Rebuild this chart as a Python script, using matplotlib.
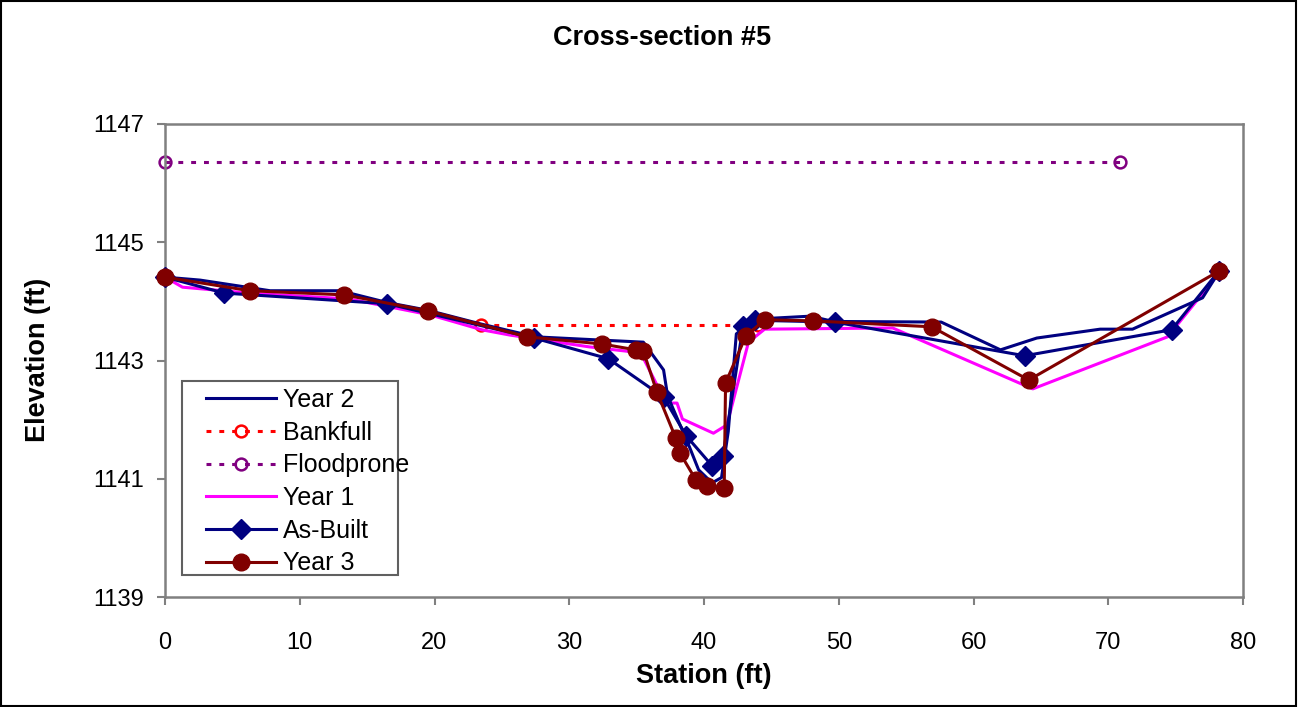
import matplotlib
matplotlib.use("Agg")
import matplotlib.pyplot as plt
from matplotlib.patches import Rectangle

plt.rcParams['font.family'] = ['Liberation Sans', 'DejaVu Sans']

# Survey data: station (ft) vs elevation (ft)
year2_sta = [0, 2.6, 7.8, 13.0, 16.5, 19.5, 23.4, 27.5, 35.5, 37.0, 37.3, 38.9,
             39.6, 40.6, 41.3, 41.8, 42.4, 43.3, 43.8, 47.9, 49.6, 57.6, 62.0,
             64.7, 69.4, 71.8, 77.0, 78.3]
year2_elev = [1144.41, 1144.36, 1144.18, 1144.18, 1143.98, 1143.85, 1143.62,
              1143.40, 1143.31, 1142.84, 1142.40, 1141.55, 1141.15, 1140.93,
              1141.02, 1141.80, 1143.45, 1143.62, 1143.70, 1143.75, 1143.66,
              1143.65, 1143.18, 1143.38, 1143.53, 1143.53, 1144.06, 1144.53]

bankfull_sta = [23.45, 44.0]
bankfull_elev = [1143.60, 1143.60]

floodprone_sta = [0, 70.9]
floodprone_elev = [1146.36, 1146.36]

year1_sta = [0, 1.3, 6.3, 13.7, 19.7, 23.5, 25.6, 31.5, 35.3, 36.5, 37.3, 38.0,
             38.4, 40.7, 41.7, 43.3, 44.5, 54.0, 64.4, 74.4, 78.3]
year1_elev = [1144.41, 1144.24, 1144.14, 1144.04, 1143.77, 1143.52, 1143.43,
              1143.23, 1143.13, 1142.59, 1142.28, 1142.28, 1142.01, 1141.77,
              1141.91, 1143.31, 1143.53, 1143.55, 1142.52, 1143.40, 1144.50]

asbuilt_sta = [0, 4.4, 16.5, 27.4, 32.9, 37.0, 38.7, 40.6, 41.4, 42.9, 43.8,
               49.7, 63.8, 74.7, 78.2]
asbuilt_elev = [1144.41, 1144.14, 1143.96, 1143.38, 1143.03, 1142.38, 1141.72,
                1141.22, 1141.38, 1143.58, 1143.68, 1143.65, 1143.08, 1143.52,
                1144.51]

year3_sta = [0, 6.3, 13.3, 19.5, 26.9, 32.4, 34.95, 35.5, 36.5, 37.9, 38.2, 39.4,
             40.2, 41.5, 41.6, 43.1, 44.5, 48.1, 56.9, 64.1, 78.2]
year3_elev = [1144.41, 1144.18, 1144.11, 1143.84, 1143.40, 1143.28, 1143.18,
              1143.16, 1142.47, 1141.69, 1141.44, 1140.98, 1140.88, 1140.84,
              1142.62, 1143.41, 1143.69, 1143.67, 1143.57, 1142.67, 1144.51]

x_ticks = [0, 10, 20, 30, 40, 50, 60, 70, 80]
y_ticks = [1139, 1141, 1143, 1145, 1147]

W, H = 1299, 707
fig = plt.figure(figsize=(W / 100, H / 100), dpi=100)
fig.patch.set_facecolor('white')
fig.add_artist(Rectangle((0.001, 0.002), 0.997, 0.996, transform=fig.transFigure,
                         fill=False, edgecolor='black', linewidth=1.5))

ax = fig.add_axes([165 / W, 1 - 597 / H, (1243 - 165) / W, (597 - 124) / H])

navy = '#000080'
maroon = '#800000'
lw = 2.2

ax.plot(year2_sta, year2_elev, color=navy, lw=lw, label='Year 2', zorder=3,
        clip_on=False)
ax.plot(bankfull_sta, bankfull_elev, color='#FF0000', lw=2.2,
        linestyle=(0, (1.6, 2.6)), marker='o', markersize=8.5,
        markerfacecolor='none', markeredgecolor='#FF0000', markeredgewidth=1.8,
        label='Bankfull', zorder=2, clip_on=False)
ax.plot(floodprone_sta, floodprone_elev, color='#800080', lw=2.2,
        linestyle=(0, (1.6, 2.6)), marker='o', markersize=8.5,
        markerfacecolor='none', markeredgecolor='#800080', markeredgewidth=1.8,
        label='Floodprone', zorder=2, clip_on=False)
ax.plot(year1_sta, year1_elev, color='#FF00FF', lw=lw, label='Year 1', zorder=2.5,
        clip_on=False)
ax.plot(asbuilt_sta, asbuilt_elev, color=navy, lw=lw, marker='D', markersize=10,
        markerfacecolor=navy, markeredgecolor=navy, label='As-Built', zorder=3.5,
        clip_on=False)
ax.plot(year3_sta, year3_elev, color=maroon, lw=lw, marker='o', markersize=12,
        markerfacecolor=maroon, markeredgecolor=maroon, label='Year 3', zorder=4,
        clip_on=False)

ax.set_xlim(0, 80)
ax.set_ylim(1139, 1147)
ax.set_xticks(x_ticks)
ax.set_yticks(y_ticks)
ax.set_xticklabels([str(t) for t in x_ticks])
ax.set_yticklabels([str(t) for t in y_ticks])
for s in ax.spines.values():
    s.set_color('#808080')
    s.set_linewidth(1.8)
ax.tick_params(axis='both', direction='out', length=6, width=1.5, color='#808080',
               labelsize=17, labelcolor='black')
ax.tick_params(axis='x', pad=19)
ax.tick_params(axis='y', pad=9)

fig.text(704 / W, 1 - 676 / H, 'Station (ft)', ha='center', va='center',
         fontsize=19.5, fontweight='bold')
fig.text(38 / W, 1 - 360 / H, 'Elevation (ft)', ha='center', va='center',
         rotation=90, fontsize=19.5, fontweight='bold')
fig.text(662 / W, 1 - 38 / H, 'Cross-section #5', ha='center', va='center',
         fontsize=19.5, fontweight='bold')

# Legend box drawn as its own rectangle, entries laid on top of it
fig.add_artist(Rectangle((182 / W, 1 - 575 / H), (398 - 182) / W, (575 - 381) / H,
                         transform=fig.transFigure, facecolor='white',
                         edgecolor='#606060', linewidth=1.5, zorder=5))
handles, labels = ax.get_legend_handles_labels()
leg = fig.legend(handles, labels, loc='upper left',
                 bbox_to_anchor=(197 / W, 1 - 379 / H),
                 bbox_transform=fig.transFigure, fontsize=18, frameon=False,
                 handlelength=2.8, handletextpad=0.3, labelspacing=0.35,
                 borderpad=0.35, borderaxespad=0)
leg.set_zorder(6)

fig.savefig('out.png', dpi=100)
